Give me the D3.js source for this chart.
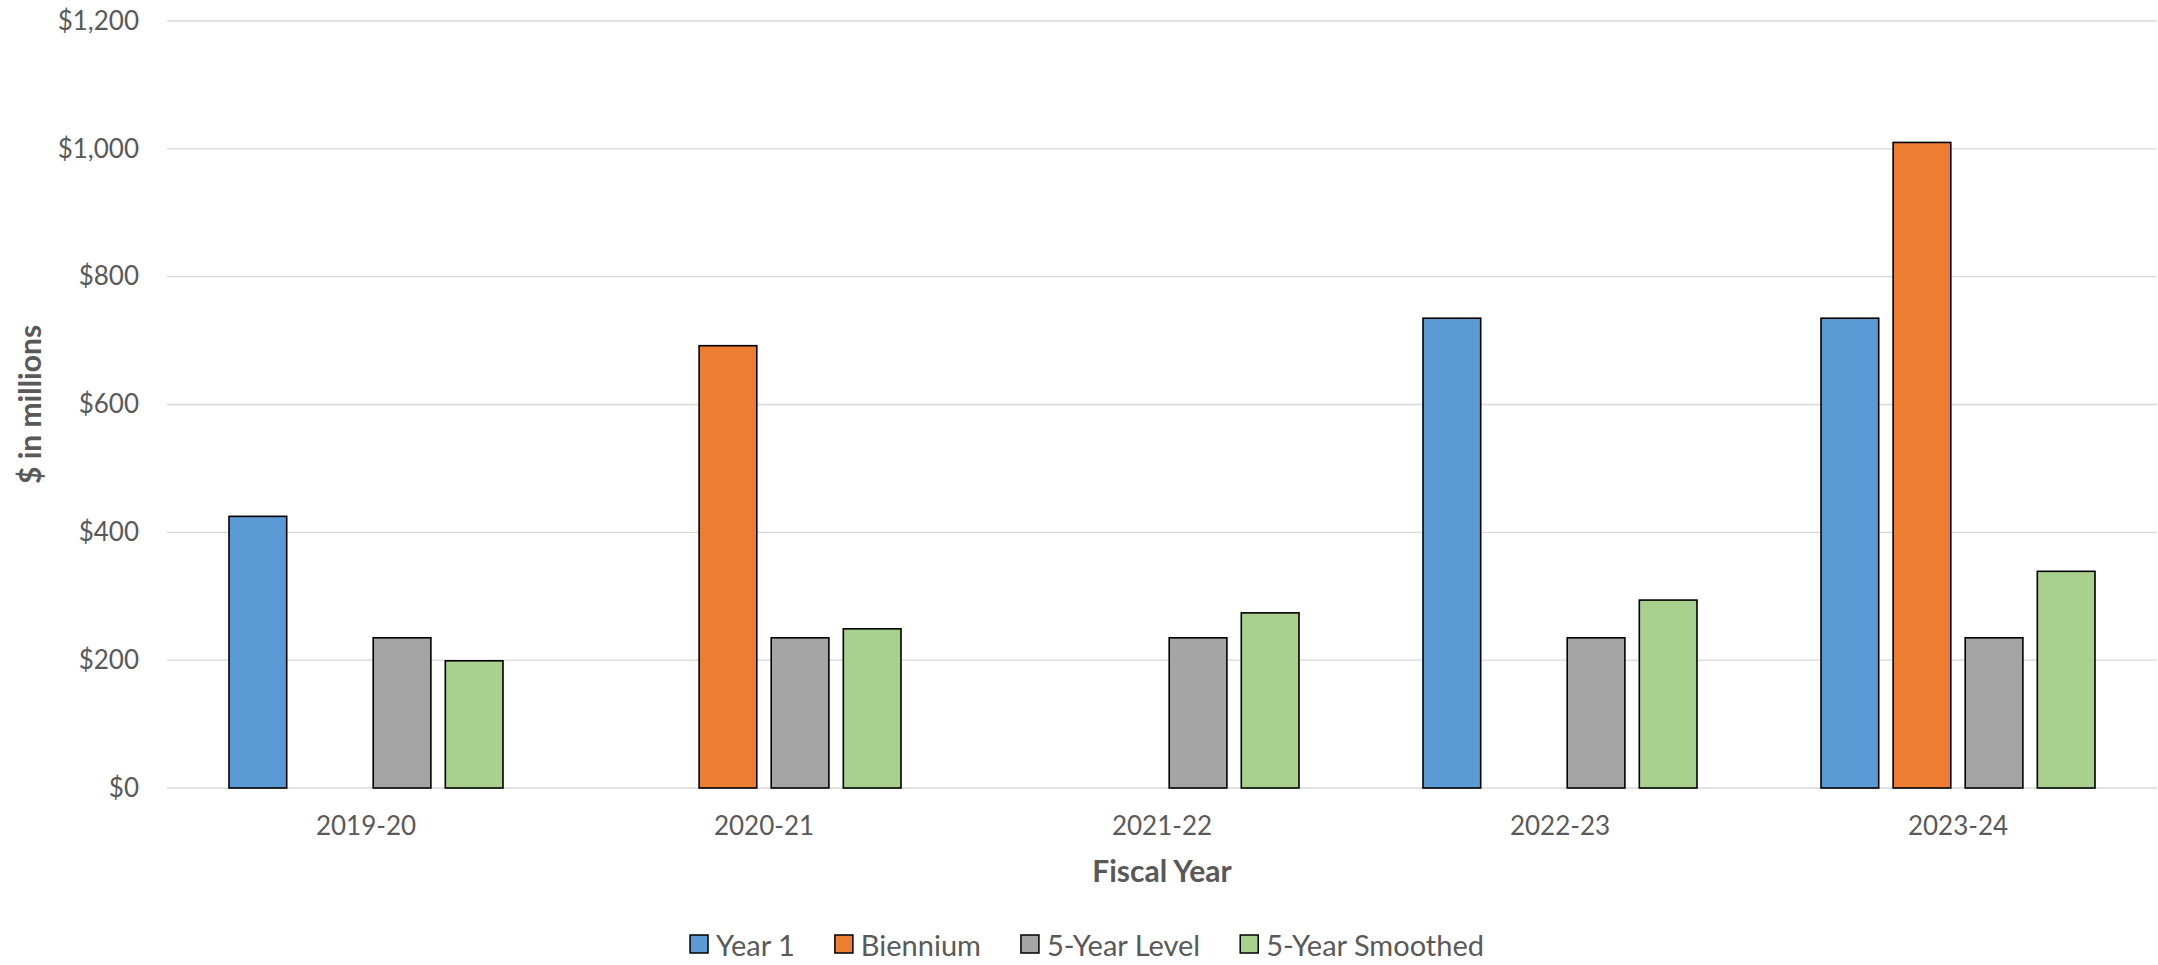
<!DOCTYPE html>
<html>
<head>
<meta charset="utf-8">
<script src="https://cdn.jsdelivr.net/npm/d3@7"></script>
<style>
  html, body { margin: 0; padding: 0; background: #fff; }
  svg { display: block; }
  text { font-family: Lato, "Open Sans", sans-serif; fill: #595959; }
</style>
</head>
<body>
<svg id="chart" width="2158" height="965"></svg>
<script>
const categories = ["2019-20", "2020-21", "2021-22", "2022-23", "2023-24"];
const seriesNames = ["Year 1", "Biennium", "5-Year Level", "5-Year Smoothed"];
const year1 = [425, null, null, 735, 735];
const biennium = [null, 692, null, null, 1010];
const level5 = [235, 235, 235, 235, 235];
const smoothed5 = [199, 249, 274, 294, 339];
const seriesColors = ["#5B9BD5", "#ED7D31", "#A5A5A5", "#A9D18E"];
const yTicks = [0, 200, 400, 600, 800, 1000, 1200];

const seriesValues = [year1, biennium, level5, smoothed5];

const svg = d3.select("#chart");
const plot = { left: 167, right: 2157, top: 21, bottom: 788 };

const x0 = d3.scaleBand().domain(categories)
  .range([plot.left, plot.right]).paddingInner(0.3116).paddingOuter(0.1558);
const x1 = d3.scaleBand().domain(seriesNames)
  .range([0, x0.bandwidth()]).paddingInner(0.2).paddingOuter(0);
const y = d3.scaleLinear().domain([0, 1200]).range([plot.bottom, plot.top]);

// gridlines
svg.append("g").selectAll("line").data(yTicks).join("line")
  .attr("x1", plot.left).attr("x2", plot.right)
  .attr("y1", d => y(d)).attr("y2", d => y(d))
  .attr("stroke", "#d9d9d9").attr("stroke-width", 1.4);

// y axis labels
const fmt = d3.format(",");
const yAxis = d3.axisLeft(y).tickValues(yTicks).tickSize(0).tickPadding(28)
  .tickFormat(d => "$" + fmt(d));
const gy = svg.append("g").attr("transform", `translate(${plot.left},0)`).call(yAxis);
gy.select(".domain").remove();
gy.selectAll("text").style("font-size", "26px").attr("fill", "#595959")
  .style("font-family", "Lato, sans-serif");

// x axis labels
const xAxis = d3.axisBottom(x0).tickSize(0).tickPadding(29);
const gx = svg.append("g").attr("transform", `translate(0,${plot.bottom})`).call(xAxis);
gx.select(".domain").remove();
gx.selectAll("text").style("font-size", "26px").attr("fill", "#595959")
  .style("font-family", "Lato, sans-serif");

// bars
const rows = [];
categories.forEach((c, i) => {
  seriesNames.forEach((s, j) => {
    const v = seriesValues[j][i];
    if (v != null) rows.push({ cat: c, series: s, value: v, color: seriesColors[j] });
  });
});
svg.append("g").selectAll("rect").data(rows).join("rect")
  .attr("x", d => x0(d.cat) + x1(d.series))
  .attr("y", d => y(d.value))
  .attr("width", x1.bandwidth())
  .attr("height", d => y(0) - y(d.value))
  .attr("fill", d => d.color)
  .attr("stroke", "#000").attr("stroke-width", 1.6);

// axis titles
svg.append("text")
  .attr("transform", `translate(41,${(plot.top + plot.bottom) / 2}) rotate(-90)`)
  .attr("text-anchor", "middle")
  .style("font-size", "30px").style("font-weight", "bold")
  .text("$ in millions");

svg.append("text")
  .attr("x", (plot.left + plot.right) / 2).attr("y", 882)
  .attr("text-anchor", "middle")
  .style("font-size", "30px").style("font-weight", "bold")
  .text("Fiscal Year");

// legend
const legend = svg.append("g");
const sq = 18, gapSqText = 8, gapItem = 40;
let cx = 0;
seriesNames.forEach((name, i) => {
  const g = legend.append("g");
  g.append("rect").attr("x", 0).attr("y", -sq / 2).attr("width", sq).attr("height", sq)
    .attr("fill", seriesColors[i]).attr("stroke", "#000").attr("stroke-width", 1.5);
  const t = g.append("text").attr("x", sq + gapSqText).attr("y", 0)
    .attr("dominant-baseline", "central")
    .style("font-size", "29px").text(name);
  const w = sq + gapSqText + t.node().getComputedTextLength();
  g.attr("transform", `translate(${cx},0)`);
  cx += w + gapItem;
});
const totalW = cx - gapItem;
legend.attr("transform", `translate(${1087 - totalW / 2},944)`);
</script>
</body>
</html>
